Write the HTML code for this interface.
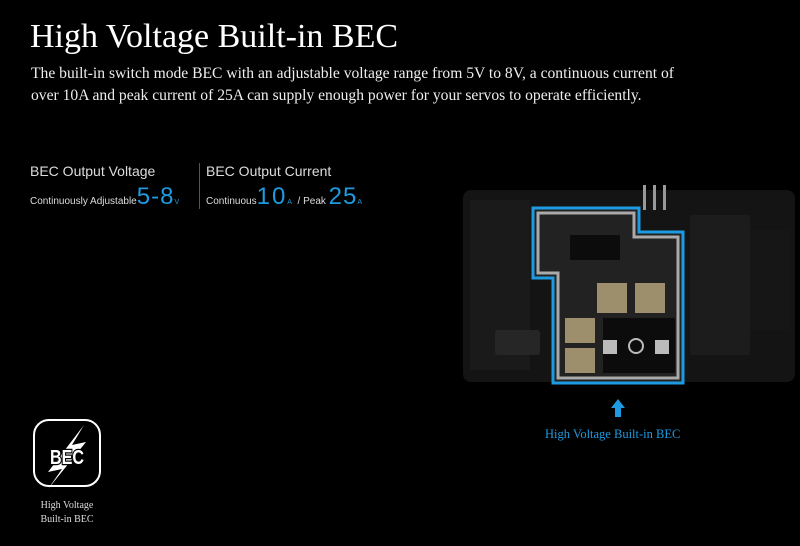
<!DOCTYPE html>
<html><head><style>
body{margin:0;width:800px;height:546px;background:#000;overflow:hidden;position:relative;font-family:"Liberation Serif",serif;color:#fff}
.a{position:absolute}
.s{font-family:"Liberation Sans",sans-serif}
</style></head><body>
<div class="a" style="left:30px;top:18px;font-size:34px;">High Voltage Built-in BEC</div>
<div class="a" style="left:31px;top:63px;font-size:15.6px;line-height:22px;white-space:nowrap;color:#eee">The built-in switch mode BEC with an adjustable voltage range from 5V to 8V, a continuous current of<br>over 10A and peak current of 25A can supply enough power for your servos to operate efficiently.</div>
<div class="a s" style="left:30px;top:163px;font-size:14px;color:#ddd">BEC Output Voltage</div>
<div class="a s" style="left:206px;top:163px;font-size:14px;color:#ddd">BEC Output Current</div>
<div class="a" style="left:199px;top:163px;width:1px;height:46px;background:#555"></div>
<div class="a s" style="left:30px;top:183px;font-size:10px;color:#ddd;white-space:nowrap">Continuously Adjustable<span style="font-size:24px;color:#1e9be0;letter-spacing:1px">5-8</span><span style="font-size:7px;color:#1e9be0">V</span></div>
<div class="a s" style="left:206px;top:183px;font-size:10px;color:#ddd;white-space:nowrap">Continuous<span style="font-size:24px;color:#1e9be0;letter-spacing:2px">10</span><span style="font-size:7px;color:#1e9be0">A</span> &nbsp;/ Peak <span style="font-size:24px;color:#1e9be0;letter-spacing:1px">25</span><span style="font-size:7px;color:#1e9be0">A</span></div>

<svg class="a" style="left:0;top:0" width="800" height="546">
<rect x="463" y="190" width="332" height="192" rx="8" fill="#141414"/>
<rect x="470" y="200" width="60" height="170" fill="#1a1a1a"/>
<rect x="690" y="215" width="60" height="140" fill="#1c1c1c"/>
<rect x="750" y="230" width="40" height="100" fill="#161616"/>
<path d="M533 208H639V232H683V383H553V278H533Z" fill="#222" stroke="#1e9be0" stroke-width="3"/>
<path d="M538 213H634V237H678V378H558V273H538Z" fill="none" stroke="#aaa" stroke-width="3"/>
<rect x="570" y="235" width="50" height="25" fill="#0c0c0c"/>
<rect x="597" y="283" width="30" height="30" fill="#9e8f6c"/>
<rect x="635" y="283" width="30" height="30" fill="#9e8f6c"/>
<rect x="565" y="318" width="30" height="25" fill="#9e8f6c"/>
<rect x="565" y="348" width="30" height="25" fill="#9e8f6c"/>
<rect x="603" y="318" width="72" height="55" fill="#0c0c0c"/>
<rect x="603" y="340" width="14" height="14" fill="#bbb"/>
<rect x="655" y="340" width="14" height="14" fill="#bbb"/>
<circle cx="636" cy="346" r="7" fill="none" stroke="#bbb" stroke-width="2"/>
<rect x="643" y="185" width="3" height="25" fill="#999"/><rect x="653" y="185" width="3" height="25" fill="#999"/><rect x="663" y="185" width="3" height="25" fill="#999"/>
<rect x="495" y="330" width="45" height="25" rx="3" fill="#262626"/>
<path d="M618 399l-7 9h4v9h6v-9h4z" fill="#1e9be0"/>
<rect x="34" y="420" width="66" height="66" rx="15" fill="none" stroke="#fff" stroke-width="2"/>
<path d="M84 425L48 472l14-3-14 20 38-47-14 3z" fill="#fff"/>
<text x="67" y="464" text-anchor="middle" font-family="Liberation Sans" font-weight="bold" font-size="20" fill="#fff" stroke="#000" stroke-width="2.5" paint-order="stroke" textLength="34" lengthAdjust="spacingAndGlyphs">BEC</text>
</svg>
<div class="a" style="left:545px;top:427px;font-size:12.5px;color:#1e9be0">High Voltage Built-in BEC</div>
<div class="a" style="left:25px;top:499px;width:84px;text-align:center;font-size:10px;line-height:14px;color:#ddd">High Voltage<br>Built-in BEC</div>
</body></html>
